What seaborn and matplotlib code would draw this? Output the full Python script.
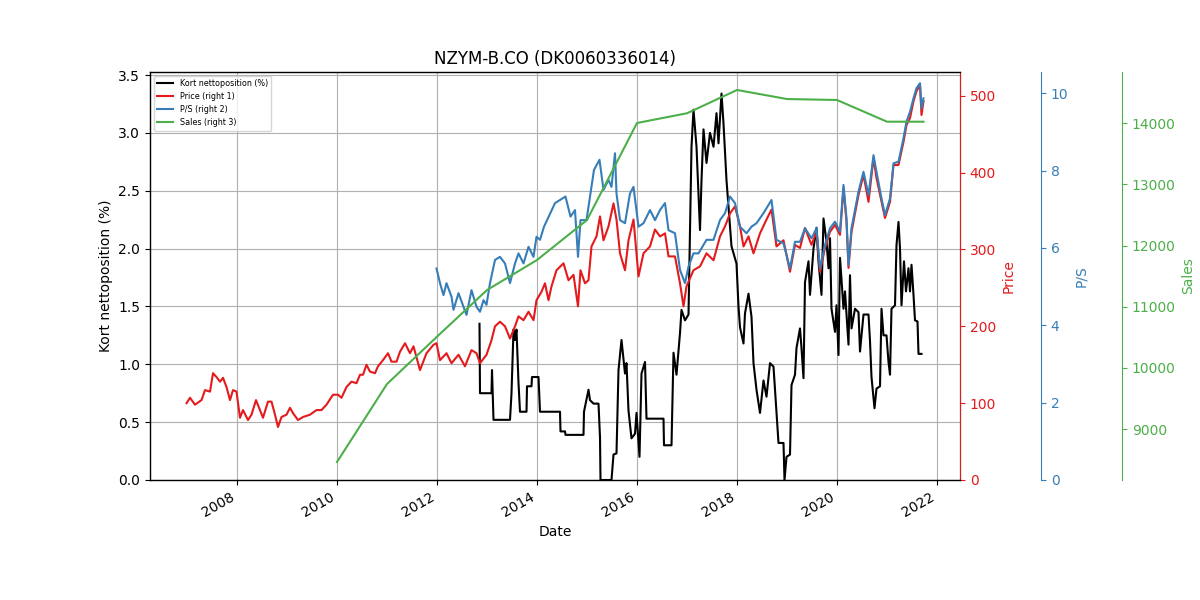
import numpy as np
import pandas as pd
import matplotlib
matplotlib.use('Agg')
import matplotlib.pyplot as plt
import matplotlib.dates as mdates
import seaborn as sns

title = "NZYM-B.CO (DK0060336014)"

# Kort nettoposition (%) - left axis (dates as decimal years)
short_years = [2012.85, 2012.86, 2013.09, 2013.10, 2013.13, 2013.46, 2013.49, 2013.53, 2013.56, 2013.59,
               2013.63, 2013.66, 2013.79, 2013.80, 2013.89, 2013.90, 2014.03, 2014.06, 2014.46, 2014.47,
               2014.56, 2014.57, 2014.93, 2014.94, 2015.03, 2015.06, 2015.13, 2015.23, 2015.26, 2015.27,
               2015.49, 2015.53, 2015.59, 2015.63, 2015.69, 2015.76, 2015.79, 2015.83, 2015.89, 2015.96,
               2015.99, 2016.05, 2016.09, 2016.16, 2016.19, 2016.53, 2016.54, 2016.69, 2016.73, 2016.79,
               2016.86, 2016.89, 2016.96, 2017.03, 2017.09, 2017.13, 2017.19, 2017.26, 2017.29, 2017.33,
               2017.39, 2017.46, 2017.53, 2017.59, 2017.63, 2017.69, 2017.73, 2017.79, 2017.89, 2017.99,
               2018.03, 2018.06, 2018.13, 2018.16, 2018.23, 2018.29, 2018.33, 2018.39, 2018.46, 2018.53,
               2018.59, 2018.66, 2018.73, 2018.79, 2018.83, 2018.93, 2018.95, 2018.99, 2019.06, 2019.09,
               2019.16, 2019.19, 2019.26, 2019.29, 2019.33, 2019.36, 2019.43, 2019.46, 2019.53, 2019.59,
               2019.63, 2019.69, 2019.73, 2019.79, 2019.83, 2019.86, 2019.89, 2019.96, 2019.99, 2020.03,
               2020.06, 2020.13, 2020.16, 2020.23, 2020.26, 2020.29, 2020.36, 2020.43, 2020.46, 2020.53,
               2020.63, 2020.66, 2020.69, 2020.75, 2020.79, 2020.86, 2020.89, 2020.93, 2020.99, 2021.03,
               2021.06, 2021.09, 2021.16, 2021.19, 2021.23, 2021.26, 2021.29, 2021.34, 2021.38, 2021.43,
               2021.46, 2021.49, 2021.53, 2021.56, 2021.61, 2021.63, 2021.69]
short_values = [1.35, 0.75, 0.75, 0.95, 0.52, 0.52, 0.75, 1.30, 1.21, 1.30,
                0.84, 0.59, 0.59, 0.81, 0.81, 0.89, 0.89, 0.59, 0.59, 0.42,
                0.42, 0.39, 0.39, 0.59, 0.78, 0.69, 0.66, 0.66, 0.37, 0.00,
                0.00, 0.22, 0.23, 0.95, 1.21, 0.92, 1.01, 0.60, 0.36, 0.40,
                0.58, 0.20, 0.92, 1.02, 0.53, 0.53, 0.30, 0.30, 1.10, 0.91,
                1.27, 1.47, 1.38, 1.43, 2.88, 3.20, 2.88, 2.16, 2.59, 3.03,
                2.74, 3.00, 2.88, 3.17, 2.91, 3.34, 3.08, 2.59, 2.02, 1.87,
                1.50, 1.32, 1.18, 1.44, 1.61, 1.41, 1.01, 0.78, 0.58, 0.86,
                0.72, 1.01, 0.98, 0.58, 0.32, 0.32, 0.00, 0.20, 0.22, 0.82,
                0.91, 1.14, 1.31, 1.14, 0.88, 1.71, 1.89, 1.60, 2.00, 2.18,
                1.89, 1.60, 2.26, 2.06, 1.83, 2.09, 1.48, 1.28, 1.51, 1.08,
                1.92, 1.48, 1.63, 1.17, 1.77, 1.31, 1.48, 1.45, 1.11, 1.43,
                1.43, 1.20, 0.89, 0.62, 0.79, 0.81, 1.48, 1.25, 1.25, 1.02,
                0.91, 1.48, 1.51, 2.03, 2.23, 2.00, 1.51, 1.89, 1.63, 1.83,
                1.63, 1.86, 1.60, 1.38, 1.37, 1.09, 1.09]

# Price (right 1)
price_years = [2006.99, 2007.06, 2007.16, 2007.29, 2007.36, 2007.46, 2007.52, 2007.59, 2007.66, 2007.72,
               2007.79, 2007.86, 2007.92, 2007.99, 2008.06, 2008.12, 2008.22, 2008.29, 2008.38, 2008.46,
               2008.52, 2008.62, 2008.69, 2008.76, 2008.82, 2008.89, 2008.99, 2009.06, 2009.12, 2009.22,
               2009.32, 2009.46, 2009.59, 2009.69, 2009.79, 2009.92, 2010.02, 2010.09, 2010.19, 2010.29,
               2010.39, 2010.46, 2010.52, 2010.59, 2010.66, 2010.76, 2010.82, 2010.92, 2011.02, 2011.09,
               2011.19, 2011.26, 2011.36, 2011.46, 2011.53, 2011.66, 2011.79, 2011.93, 2011.99, 2012.06,
               2012.19, 2012.29, 2012.43, 2012.56, 2012.69, 2012.79, 2012.86, 2012.99, 2013.09, 2013.16,
               2013.26, 2013.36, 2013.46, 2013.56, 2013.63, 2013.73, 2013.83, 2013.93, 2013.99, 2014.09,
               2014.16, 2014.23, 2014.29, 2014.39, 2014.53, 2014.63, 2014.73, 2014.82, 2014.87, 2014.96,
               2015.03, 2015.09, 2015.19, 2015.26, 2015.33, 2015.43, 2015.53, 2015.59, 2015.66, 2015.76,
               2015.83, 2015.93, 2016.03, 2016.13, 2016.26, 2016.36, 2016.46, 2016.56, 2016.63, 2016.76,
               2016.86, 2016.93, 2016.99, 2017.13, 2017.26, 2017.39, 2017.53, 2017.66, 2017.76, 2017.86,
               2017.96, 2018.06, 2018.13, 2018.23, 2018.33, 2018.46, 2018.59, 2018.69, 2018.79, 2018.93,
               2019.06, 2019.16, 2019.26, 2019.36, 2019.49, 2019.59, 2019.66, 2019.76, 2019.86, 2019.96,
               2020.06, 2020.13, 2020.19, 2020.23, 2020.29, 2020.43, 2020.53, 2020.63, 2020.73, 2020.79,
               2020.89, 2020.96, 2021.06, 2021.13, 2021.23, 2021.33, 2021.39, 2021.46, 2021.53, 2021.59,
               2021.66, 2021.69, 2021.73]
price_values = [100, 107, 98, 104, 117, 115, 139, 134, 128, 133,
                121, 104, 117, 115, 81, 91, 78, 85, 104, 91,
                81, 102, 102, 85, 69, 82, 85, 94, 87, 78,
                82, 85, 91, 91, 98, 111, 111, 107, 121, 128,
                126, 137, 137, 150, 141, 139, 148, 156, 165, 154,
                154, 167, 178, 165, 174, 143, 165, 176, 178, 156,
                165, 152, 163, 148, 169, 165, 152, 163, 182, 200,
                206, 200, 184, 200, 213, 208, 219, 208, 234, 245,
                256, 234, 252, 273, 282, 260, 267, 226, 273, 256,
                260, 304, 317, 343, 312, 330, 360, 339, 295, 273,
                312, 339, 265, 295, 304, 326, 317, 321, 291, 291,
                256, 226, 252, 273, 278, 295, 286, 317, 330, 347,
                356, 330, 304, 317, 295, 321, 339, 352, 304, 312,
                271, 306, 302, 328, 306, 323, 271, 302, 323, 332,
                319, 380, 336, 276, 323, 371, 397, 362, 419, 393,
                362, 341, 362, 410, 410, 440, 462, 471, 493, 506,
                514, 475, 493]

# P/S (right 2)
ps_years = [2011.99, 2012.06, 2012.13, 2012.19, 2012.29, 2012.33, 2012.43, 2012.53, 2012.59, 2012.69,
            2012.79, 2012.86, 2012.93, 2012.99, 2013.06, 2013.16, 2013.26, 2013.36, 2013.46, 2013.56,
            2013.63, 2013.73, 2013.83, 2013.93, 2013.99, 2014.06, 2014.14, 2014.36, 2014.57, 2014.67,
            2014.76, 2014.82, 2014.87, 2014.99, 2015.14, 2015.25, 2015.33, 2015.43, 2015.49, 2015.56,
            2015.59, 2015.66, 2015.76, 2015.86, 2015.93, 2016.03, 2016.13, 2016.26, 2016.36, 2016.46,
            2016.56, 2016.63, 2016.76, 2016.86, 2016.96, 2017.03, 2017.13, 2017.23, 2017.39, 2017.53,
            2017.66, 2017.76, 2017.86, 2017.96, 2018.06, 2018.19, 2018.29, 2018.39, 2018.53, 2018.69,
            2018.79, 2018.93, 2019.06, 2019.16, 2019.26, 2019.36, 2019.49, 2019.59, 2019.66, 2019.76,
            2019.86, 2019.96, 2020.06, 2020.13, 2020.19, 2020.23, 2020.29, 2020.43, 2020.53, 2020.63,
            2020.73, 2020.79, 2020.89, 2020.96, 2021.06, 2021.13, 2021.23, 2021.33, 2021.39, 2021.46,
            2021.53, 2021.59, 2021.66, 2021.69, 2021.73]
ps_values = [5.47, 5.09, 4.78, 5.09, 4.74, 4.40, 4.83, 4.48, 4.27, 4.91,
             4.48, 4.35, 4.65, 4.53, 5.09, 5.69, 5.77, 5.60, 5.09, 5.60,
             5.86, 5.60, 6.03, 5.77, 6.29, 6.21, 6.55, 7.16, 7.33, 6.81,
             6.98, 5.77, 6.72, 6.72, 8.02, 8.28, 7.50, 7.76, 7.58, 8.45,
             7.41, 6.72, 6.64, 7.41, 7.58, 6.55, 6.64, 6.98, 6.72, 6.98,
             7.16, 6.46, 6.38, 5.43, 5.09, 5.52, 5.86, 5.86, 6.21, 6.21,
             6.72, 6.90, 7.33, 7.16, 6.55, 6.38, 6.55, 6.64, 6.90, 7.24,
             6.21, 6.12, 5.47, 6.16, 6.16, 6.51, 6.25, 6.51, 5.47, 6.08,
             6.51, 6.68, 6.42, 7.63, 6.77, 5.56, 6.51, 7.46, 7.97, 7.37,
             8.40, 7.97, 7.28, 6.85, 7.28, 8.19, 8.23, 8.84, 9.27, 9.52,
             9.87, 10.13, 10.26, 9.61, 9.87]

# Sales (right 3)
sales_years = [2010.0, 2011.0, 2012.0, 2013.0, 2014.0, 2015.0, 2016.0, 2017.0, 2018.0, 2019.0,
               2020.0, 2021.0, 2021.73]
sales_values = [8460, 9736, 10510, 11273, 11764, 12418, 14005, 14164, 14545, 14397,
                14381, 14026, 14026]

black = 'black'
red = '#e41a1c'
blue = '#377eb8'
green = '#4daf4a'


def to_dates(years):
    years = np.asarray(years, dtype=float)
    return pd.Timestamp('2000-01-01') + pd.to_timedelta((years - 2000) * 365.25, unit='D')


fig, ax = plt.subplots(figsize=(12, 6), dpi=100)
ax_price = ax.twinx()
ax_ps = ax.twinx()
ax_sales = ax.twinx()
ax_ps.spines['right'].set_position(('axes', 1.1))
ax_sales.spines['right'].set_position(('axes', 1.2))

sns.lineplot(x=to_dates(short_years), y=short_values, ax=ax, color=black,
             estimator=None, sort=False, lw=1.5, label='Kort nettoposition (%)', legend=False)
sns.lineplot(x=to_dates(price_years), y=price_values, ax=ax_price, color=red,
             estimator=None, sort=False, lw=1.5, label='Price (right 1)', legend=False)
sns.lineplot(x=to_dates(ps_years), y=ps_values, ax=ax_ps, color=blue,
             estimator=None, sort=False, lw=1.5, label='P/S (right 2)', legend=False)
sns.lineplot(x=to_dates(sales_years), y=sales_values, ax=ax_sales, color=green,
             estimator=None, sort=False, lw=1.5, label='Sales (right 3)', legend=False)

ax.set_xlim(to_dates([2006.26])[0], to_dates([2022.46])[0])
ax.set_ylim(0, 3.526)
ax_price.set_ylim(0, 531)
ax_ps.set_ylim(0, 10.55)
ax_sales.set_ylim(8166, 14839)

ax.xaxis.set_major_locator(mdates.YearLocator(2))
ax.xaxis.set_major_formatter(mdates.DateFormatter('%Y'))
ax.grid(True)

ax.set_title(title)
ax.set_xlabel('Date')
ax.set_ylabel('Kort nettoposition (%)')

for a, c, lab in [(ax_price, red, 'Price'), (ax_ps, blue, 'P/S'), (ax_sales, green, 'Sales')]:
    a.set_ylabel(lab, color=c)
    a.tick_params(axis='y', colors=c)
    a.spines['right'].set_color(c)
    a.grid(False)

handles = ax.get_lines() + ax_price.get_lines() + ax_ps.get_lines() + ax_sales.get_lines()
labels = [h.get_label() for h in handles]
ax.legend(handles, labels, loc='upper left', fontsize='xx-small')

fig.autofmt_xdate()
fig.subplots_adjust(left=0.125, right=0.8, top=0.88, bottom=0.2)
fig.savefig('out.png', dpi=100)
